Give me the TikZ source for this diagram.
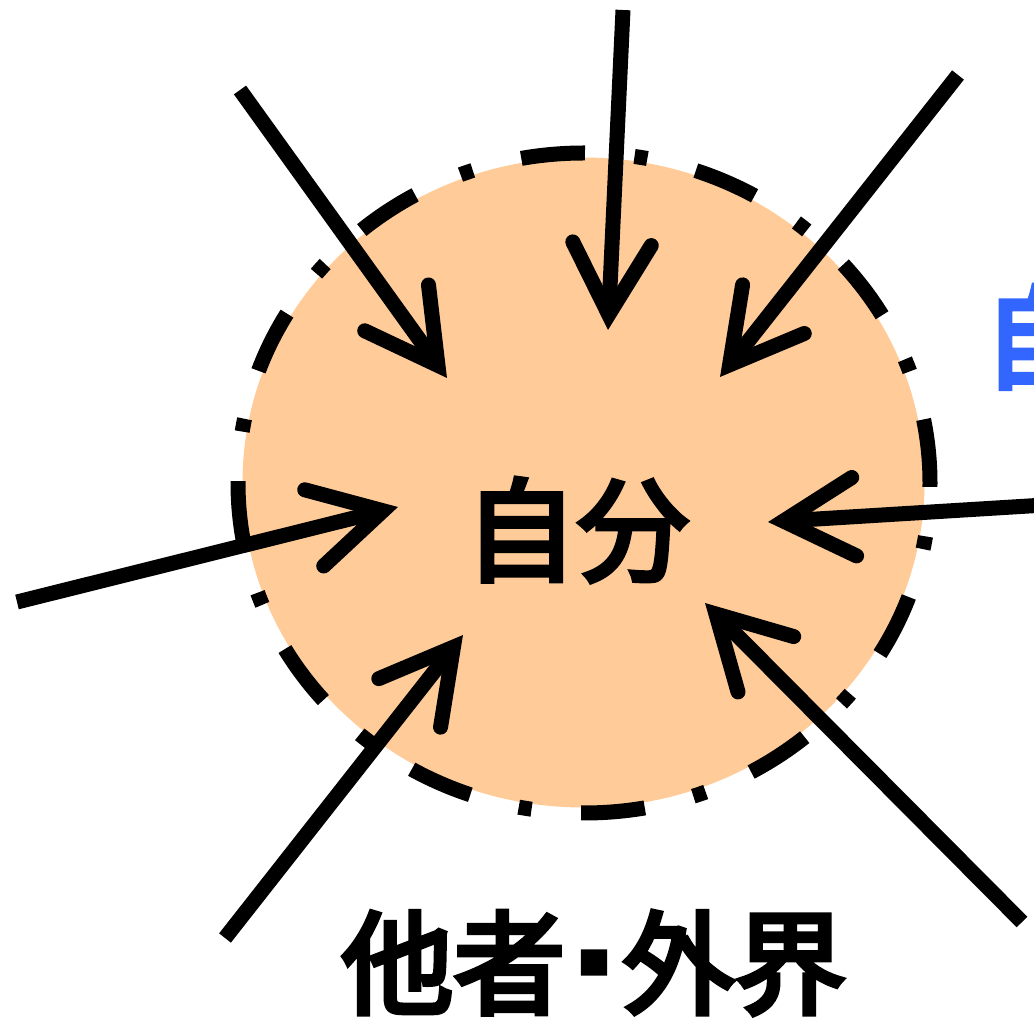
\documentclass[tikz,border=0pt]{standalone}
\usepackage{fontspec}
\newfontfamily\jp{Noto Sans CJK JP}[FakeBold=4.5]
\usetikzlibrary{calc}
\definecolor{peach}{RGB}{255,204,153}
\definecolor{jblue}{RGB}{51,102,255}
\tikzset{
  shaftline/.style={line width=15pt, line cap=butt},
  headline/.style={line width=15pt, line cap=round, line join=miter},
  bigtext/.style={inner sep=0pt, font=\jp\fontsize{112}{112}\selectfont},
  ringline/.style={line width=15pt, dash pattern=on 64pt off 50pt on 13pt off 49.7pt}
}
\newcommand{\inarrow}[2]{%
  \coordinate (#1v) at ($(#2)!15.5pt!(#1)$);
  \draw[shaftline] (#1) -- (#1v);
  \draw[headline] ($(#1v)!81pt!29:(#1)$) -- (#1v) -- ($(#1v)!81pt!-29:(#1)$);
}
\begin{document}
\begin{tikzpicture}[x=1pt,y=1pt]
\useasboundingbox (0,0) rectangle (1034,1018);
\clip (0,0) rectangle (1034,1018);
% circle
\fill[peach] (583.5,535.5) ellipse [x radius=341pt, y radius=325pt];
\draw[ringline] (584,535) ellipse [x radius=346pt, y radius=330pt];
% labels
\node[bigtext] (self) at (577,488) {自分};
\node[bigtext] (others) at (594,55) {他者\kern13pt\raisebox{31pt}{\fontsize{31}{31}\selectfont ■}\kern13pt外界};
\node[bigtext, text=jblue] (selfR) at (1039,681) {自};
% arrow end points
\coordinate (sTL) at (240,928); \coordinate (tTL) at (447,640);
\coordinate (sT)  at (623,1008); \coordinate (tT) at (608,688);
\coordinate (sTR) at (958,943); \coordinate (tTR) at (720,641);
\coordinate (sL)  at (17,416);  \coordinate (tL)  at (398,511);
\coordinate (sR)  at (1045,513); \coordinate (tR) at (768,496);
\coordinate (sBL) at (225,80);  \coordinate (tBL) at (463,383);
\coordinate (sBR) at (1022,96); \coordinate (tBR) at (705,415);
\inarrow{sTL}{tTL}
\inarrow{sT}{tT}
\inarrow{sTR}{tTR}
\inarrow{sL}{tL}
\inarrow{sR}{tR}
\inarrow{sBL}{tBL}
\inarrow{sBR}{tBR}
\end{tikzpicture}
\end{document}
